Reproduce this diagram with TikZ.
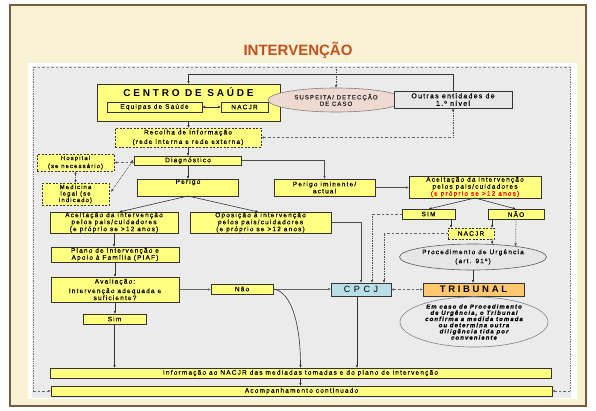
\documentclass[tikz,border=0pt]{standalone}
\usepackage{fontspec}
\setmainfont{Liberation Sans}
\newfontfamily\spf[LetterSpace=18,FakeBold=0.4]{Liberation Sans}
\newfontfamily\spt[LetterSpace=28]{Liberation Sans}
\newfontfamily\spw[LetterSpace=40]{Liberation Sans}
\usetikzlibrary{arrows.meta,calc,shapes.geometric}
\definecolor{ybox}{RGB}{255,255,128}
\definecolor{parch}{RGB}{250,242,212}
\definecolor{parchedge}{RGB}{120,90,60}
\definecolor{panelgray}{RGB}{235,235,235}
\definecolor{lgray}{RGB}{230,230,230}
\definecolor{pinkc}{RGB}{237,217,207}
\definecolor{tribc}{RGB}{255,200,110}
\definecolor{cpcjc}{RGB}{185,222,232}
\definecolor{titlec}{RGB}{196,80,30}
\tikzset{
  box/.style={draw=black!80, fill=ybox, line width=0.6pt, inner sep=0pt, outer sep=0pt,
    align=center, font=\spf\fontsize{6.5}{7}\selectfont},
  dbox/.style={box, dash pattern=on 2pt off 1.5pt},
  ell/.style={ellipse, draw=black!50, line width=0.6pt, inner sep=0pt, outer sep=0pt, align=center},
  tip/.tip={Latex[length=3pt,width=2.6pt]},
  conn/.style={draw=black!80, line width=0.6pt, -tip},
  dconn/.style={draw=black!80, line width=0.6pt, tip-tip},
  dashc/.style={draw=black!60, line width=0.6pt, dash pattern=on 2.5pt off 2pt},
  dotc/.style={draw=black!70, line width=0.7pt, densely dotted},
}
\begin{document}
\begin{tikzpicture}[x=1pt,y=-1pt]
\useasboundingbox (0,0) rectangle (596,410);
\fill[white] (0,0) rectangle (596,410);
\draw[fill=parch, draw=parchedge, line width=1.8pt] (10,5) rectangle (586,406);
\fill[white] (28,63) rectangle (577,399);
\fill[panelgray] (32,66) rectangle (571,398);

\node[font=\bfseries\fontsize{15}{18}\selectfont, text=titlec] (title) at (298,50) {INTERVENÇÃO};

\coordinate (ftl) at (33,67);
\coordinate (ftr) at (570,67);
\coordinate (fbl) at (33,391);
\coordinate (fbr) at (570,391);

% top block
\node[box, minimum width=183pt, minimum height=37pt] (centro) at (188.5,102.5) {};
\node[font=\spt\bfseries\fontsize{10}{11}\selectfont, inner sep=0pt] (centrot) at (188.5,92) {CENTRO DE SAÚDE};
\node[box, minimum width=95pt, minimum height=10pt] (equipas) at (154.5,107) {Equipas de Saúde};
\node[box, minimum width=47pt, minimum height=10pt] (nacjra) at (244.5,107) {NACJR};
\node[ell, fill=pinkc, minimum width=136pt, minimum height=24pt, font=\spf\fontsize{6}{6.5}\selectfont, text=black!85] (susp) at (336,100) {SUSPEITA/ DETECÇÃO\\DE CASO};
\node[box, fill=lgray, minimum width=118pt, minimum height=17pt, font=\spf\fontsize{7}{7.5}\selectfont] (outras) at (453,99.5) {Outras entidades de\\1.º nível};

\node[dbox, minimum width=146pt, minimum height=19pt] (recolha) at (188,137.5) {Recolha de informação\\[2.5pt](rede interna e rede externa)};
\node[box, minimum width=107pt, minimum height=9pt] (diag) at (188,160.5) {Diagnóstico};
\node[dbox, minimum width=77pt, minimum height=17pt, font=\spf\fontsize{6}{6.5}\selectfont] (hospital) at (75.5,162.5) {Hospital\\[1.5pt](se necessário)};
\node[dbox, minimum width=67pt, minimum height=22pt, font=\spf\fontsize{6}{6.5}\selectfont] (medicina) at (75.5,194) {Medicina\\legal (se\\indicado)};
\node[box, minimum width=101pt, minimum height=17pt] (perigo) at (188,187.5) {Perigo\\[5pt]};
\node[box, minimum width=101pt, minimum height=17pt] (iminente) at (324.5,187.5) {Perigo iminente/\\actual};
\node[box, minimum width=132pt, minimum height=22pt] (aceitR) at (475,187) {Aceitação da intervenção\\pelos pais/cuidadores\\\textcolor{red}{(e próprio se >12 anos)}};
\node[box, minimum width=53pt, minimum height=10pt] (sim1) at (428.5,214) {SIM};
\node[box, minimum width=56pt, minimum height=10pt] (nao1) at (516,214) {NÃO};
\node[dbox, minimum width=46pt, minimum height=11pt] (nacjrb) at (471,233.5) {NACJR};
\node[ell, fill=lgray, draw=black!65, minimum width=147pt, minimum height=26pt, font=\spf\fontsize{6.5}{7}\selectfont] (urg) at (473,257) {Procedimento de Urgência\\[2pt](art. 91º)};
\node[box, fill=tribc, minimum width=101pt, minimum height=13pt, font=\spt\bfseries\fontsize{9.5}{10}\selectfont] (tribunal) at (473.5,289.5) {TRIBUNAL};
\node[box, fill=cpcjc, minimum width=60pt, minimum height=13pt, font=\spw\fontsize{9}{10}\selectfont] (cpcj) at (361,289.5) {CPCJ};
\node[ell, fill=panelgray, minimum width=148pt, minimum height=44pt, font=\spf\bfseries\itshape\fontsize{6}{6.2}\selectfont] (emcaso) at (474,322) {Em caso de Procedimento\\de Urgência, o Tribunal\\confirma a medida tomada\\ou determina outra\\diligência tida por\\conveniente};

\node[box, minimum width=128pt, minimum height=21pt] (aceitL) at (114,222.5) {Aceitação da intervenção\\pelos pais/cuidadores\\(e próprio se >12 anos)};
\node[box, minimum width=141pt, minimum height=21pt] (opos) at (260.5,222.5) {Oposição à intervenção\\pelos pais/cuidadores\\(e próprio se >12 anos)};
\node[box, minimum width=128pt, minimum height=15pt] (plano) at (115,254.5) {Plano de Intervenção e\\Apoio à Família (PIAF)};
\node[box, minimum width=128pt, minimum height=25pt] (aval) at (115,289.5) {Avaliação:\\[2.5pt]Intervenção adequada e\\suficiente?};
\node[box, minimum width=62pt, minimum height=10pt] (nao2) at (242,289) {Não};
\node[box, minimum width=63pt, minimum height=10pt] (sim2) at (114.5,319) {Sim};
\node[box, minimum width=501pt, minimum height=10pt] (info) at (300.5,373) {Informação ao NACJR das mediadas tomadas e do plano de intervenção};
\node[box, minimum width=501pt, minimum height=10pt] (acomp) at (301.5,391) {Acompanhamento continuado};

% frame
\draw[dashc, draw=black!45] (ftl) -- (ftr);
\draw[dotc, draw=black!50] (ftl) -- (fbl);
\draw[dotc, draw=black!50] (ftr) -- (fbr);
\draw[dashc, -tip] (fbl) -- (acomp.west);
\draw[dashc, -tip] (fbr) -- (acomp.east);

% connectors top
\draw[dconn] (equipas) -- (nacjra);
\draw[conn] (outras.north) -- ++(0,-17) -| (centro.north);
\draw[dotc, -tip] (susp.north |- ftl) -- (susp.north);
\draw[conn] (centro.south) -- (centro.south |- recolha.north);
\coordinate (ro) at (recolha.east -| outras.south);
\draw[dashc, tip-] (recolha.east) -- (ro);
\draw[dotc, -tip] (ro) -- (outras.south);
\draw[conn] (recolha.south) -- (diag.north);
\draw[dashc, tip-tip] (hospital.east) -- (hospital.east -| diag.west);
\draw[dotc, tip-tip] (hospital.south) -- (medicina.north);
\draw[dotc, tip-tip] ($(medicina.east)+(2,-2)$) -- ($(diag.west)+(-1,-1)$);
\draw[conn] (diag.south) -- (perigo.north);
\draw[conn, draw=black!70] (diag.east) -| (iminente.north);
\draw[conn, draw=black!70] (iminente.east) -- (iminente.east -| aceitR.west);
\draw[conn] (aceitR.south) -- (sim1.north);
\draw[conn] (aceitR.south) -- (nao1.north);
\draw[conn] (perigo.south) -- ($(aceitL.north)+(5,0)$);
\draw[conn] (perigo.south) -- ($(opos.north)+(-2,0)$);
\draw[conn] (aceitL.south) -- (aceitL.south |- plano.north);
\draw[conn] (plano.south) -- (aval.north);
\draw[conn] (aval.south) -- (aval.south |- sim2.north);

% right side
\coordinate (c1) at ($(cpcj.north)+(11,0)$);
\coordinate (c2) at ($(cpcj.north)+(23,0)$);
\draw[dashc] (sim1.west) -- (sim1.west -| c1);
\draw[dotc, -tip] (sim1.west -| c1) -- (c1);
\draw[dashc] (nacjrb.west) -- (nacjrb.west -| c2);
\draw[dotc, -tip] (nacjrb.west -| c2) -- (c2);
\draw[conn, draw=black!70] (opos.east) -| (cpcj.north);
\coordinate (s1) at ($(sim1.south east)+(-4,0)$);
\coordinate (n1) at ($(nao1.south west)+(4,0)$);
\draw[conn] (s1) -- (s1 |- nacjrb.north);
\draw[conn] (n1) -- (n1 |- nacjrb.north);
\draw[dotc, -tip] (nao1.south) -- (urg.14);
\draw[conn] (nacjrb.south -| n1) -- (urg.33.5);
\draw[conn] (urg.south) -- (urg.south |- tribunal.north);
\draw[draw=black!40, line width=0.6pt] (tribunal.south) -- (tribunal.south |- emcaso.north);
\draw[dashc, tip-tip] (cpcj.east) -- (tribunal.west);

% lower
\draw[conn, draw=black!60] (aval.east) -- (aval.east -| nao2.west);
\draw[conn, draw=black!60] (nao2.east) -- (nao2.east -| cpcj.west);
\draw[conn] (nao2.east) .. controls +(18,2) and +(0,-45) .. (info.north);
\coordinate (cb) at ($(cpcj.south)+(-4,0)$);
\draw[conn] (cb) -- (cb |- info.north);
\draw[conn] (sim2.south) -- (sim2.south |- info.north);
\draw[conn] (info.south) -- (info.south |- acomp.north);
\end{tikzpicture}
\end{document}
